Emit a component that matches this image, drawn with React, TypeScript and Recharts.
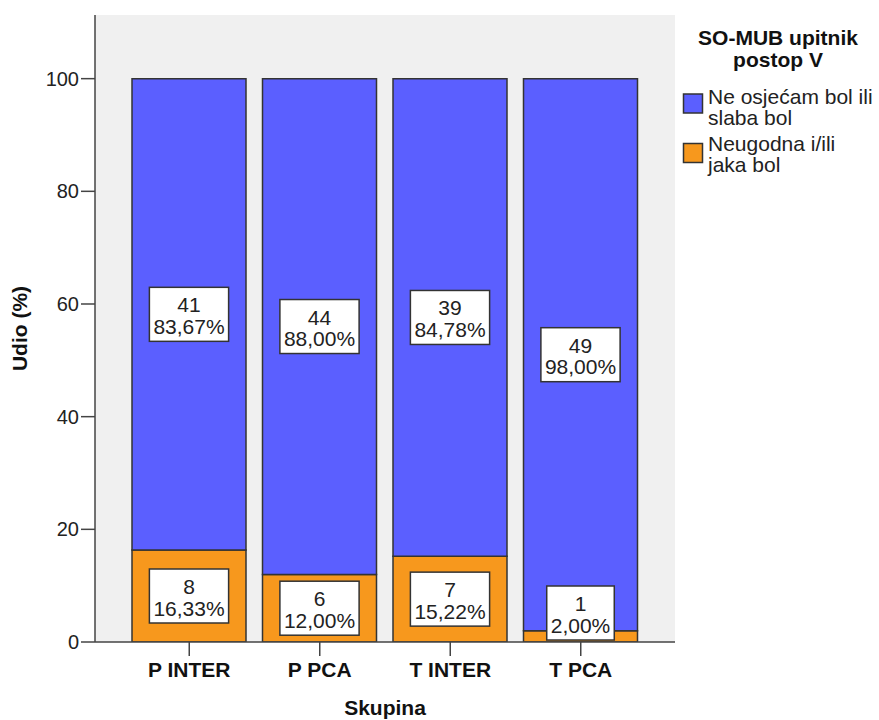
import React from 'react';
import { BarChart, Bar, XAxis, YAxis, CartesianGrid, LabelList, Label } from 'recharts';

const categories = ['P INTER', 'P PCA', 'T INTER', 'T PCA'];
const lowPainPct = [83.67, 88.0, 84.78, 98.0];
const highPainPct = [16.33, 12.0, 15.22, 2.0];
const lowPainCount = [41, 44, 39, 49];
const highPainCount = [8, 6, 7, 1];
const yTicks = [0, 20, 40, 60, 80, 100];
const legendTitle = ['SO-MUB upitnik', 'postop V'];
const legendItems = [
  { lines: ['Ne osjećam bol ili', 'slaba bol'], color: '#5B5FFF' },
  { lines: ['Neugodna i/ili', 'jaka bol'], color: '#F7981D' },
];

const data = categories.map((name, i) => ({
  name,
  high: highPainPct[i],
  low: lowPainPct[i],
}));

const FONT = '"Liberation Sans", Arial, sans-serif';
const BLUE = '#5B5FFF';
const ORANGE = '#F7981D';
const FRAME = '#444';

const fmtPct = (v: number) => v.toFixed(2).replace('.', ',') + '%';

const charW = (c: string) => {
  if (c === ',' || c === '.') return 0.278;
  if (c === '%') return 0.889;
  return 0.556;
};
const textWidth = (s: string, size: number) =>
  s.split('').reduce((a, c) => a + charW(c), 0) * size;

const makeLabel = (counts: number[], pcts: number[]) => (props: any) => {
  const { x, y, width, height, index } = props;
  const fs = 21;
  const l1 = String(counts[index]);
  const l2 = fmtPct(pcts[index]);
  const w = Math.max(textWidth(l1, fs), textWidth(l2, fs)) + 8;
  const h = 54;
  const cx = Number(x) + Number(width) / 2;
  let cy = Number(y) + Number(height) / 2;
  const bottomLimit = Number(y) + Number(height) - 2;
  if (cy + h / 2 > bottomLimit) cy = bottomLimit - h / 2;
  return (
    <g>
      <rect x={cx - w / 2} y={cy - h / 2} width={w} height={h} fill="#fff" stroke="#333" strokeWidth={1.5} />
      <text x={cx} y={cy - 2} textAnchor="middle" fontSize={fs} fontFamily={FONT} fill="#222">
        {l1}
      </text>
      <text x={cx} y={cy + 19.5} textAnchor="middle" fontSize={fs} fontFamily={FONT} fill="#222">
        {l2}
      </text>
    </g>
  );
};

const LegendBox = () => (
  <svg width={204} height={200} style={{ display: 'block', position: 'absolute', left: 675, top: 0 }}>
    {legendTitle.map((t, i) => (
      <text key={t} x={103} y={45 + i * 22} textAnchor="middle" fontSize={21} fontWeight="bold" fontFamily={FONT} fill="#111">
        {t}
      </text>
    ))}
    {legendItems.map((it, i) => (
      <g key={i}>
        <rect x={8.5} y={94 + i * 49.5} width={19} height={19} fill={it.color} stroke="#333" strokeWidth={1.5} />
        {it.lines.map((ln, j) => (
          <text key={j} x={33} y={104 + i * 47 + j * 21} fontSize={21} fontFamily={FONT} fill="#222">
            {ln}
          </text>
        ))}
      </g>
    ))}
  </svg>
);

export default function App() {
  return (
    <div style={{ position: 'absolute', left: 0, top: 0, width: 879, height: 720, background: '#fff' }}>
      <BarChart
        width={879}
        height={720}
        data={data}
        margin={{ top: 15, right: 204, bottom: 0, left: 0 }}
        barSize={114}
      >
        <CartesianGrid horizontal={false} vertical={false} fill="#F0F0F0" />
        <XAxis
          dataKey="name"
          height={78}
          padding={{ left: 29, right: 29 }}
          tickSize={14}
          tickMargin={6}
          axisLine={{ stroke: FRAME, strokeWidth: 1.5 }}
          tickLine={{ stroke: FRAME, strokeWidth: 1.5 }}
          tick={{ fontSize: 21, fontWeight: 'bold', fontFamily: FONT, fill: '#111' }}
        >
          <Label
            content={(p: any) => {
              const vb = p.viewBox;
              return (
                <text x={vb.x + vb.width / 2} y={vb.y + 73} textAnchor="middle" fontSize={21} fontWeight="bold" fontFamily={FONT} fill="#111">
                  Skupina
                </text>
              );
            }}
          />
        </XAxis>
        <XAxis
          xAxisId="top"
          dataKey="name"
          orientation="top"
          height={0}
          tick={false}
          tickLine={false}
          axisLine={{ stroke: FRAME, strokeWidth: 1.5 }}
        />
        <YAxis
          width={95}
          domain={[0, 111.3]}
          ticks={yTicks}
          allowDataOverflow
          tickSize={14}
          tickMargin={2}
          axisLine={{ stroke: FRAME, strokeWidth: 1.5 }}
          tickLine={{ stroke: FRAME, strokeWidth: 1.5 }}
          tick={{ fontSize: 20, fontFamily: FONT, fill: '#222' }}
        >
          <Label
            content={(p: any) => {
              const vb = p.viewBox;
              const cy = vb.y + vb.height / 2;
              return (
                <text x={27} y={cy} transform={`rotate(-90 27 ${cy})`} textAnchor="middle" fontSize={21} fontWeight="bold" fontFamily={FONT} fill="#111">
                  Udio (%)
                </text>
              );
            }}
          />
        </YAxis>
        <YAxis
          yAxisId="right"
          orientation="right"
          width={0}
          type="number"
          domain={[0, 1]}
          tick={false}
          tickLine={false}
          axisLine={{ stroke: FRAME, strokeWidth: 1.5 }}
        />
        <Bar dataKey="high" stackId="a" fill={ORANGE} stroke="#333" strokeWidth={1.5} isAnimationActive={false}>
          <LabelList dataKey="high" content={makeLabel(highPainCount, highPainPct)} />
        </Bar>
        <Bar dataKey="low" stackId="a" fill={BLUE} stroke="#333" strokeWidth={1.5} isAnimationActive={false}>
          <LabelList dataKey="low" content={makeLabel(lowPainCount, lowPainPct)} />
        </Bar>
      </BarChart>
      <LegendBox />
    </div>
  );
}
